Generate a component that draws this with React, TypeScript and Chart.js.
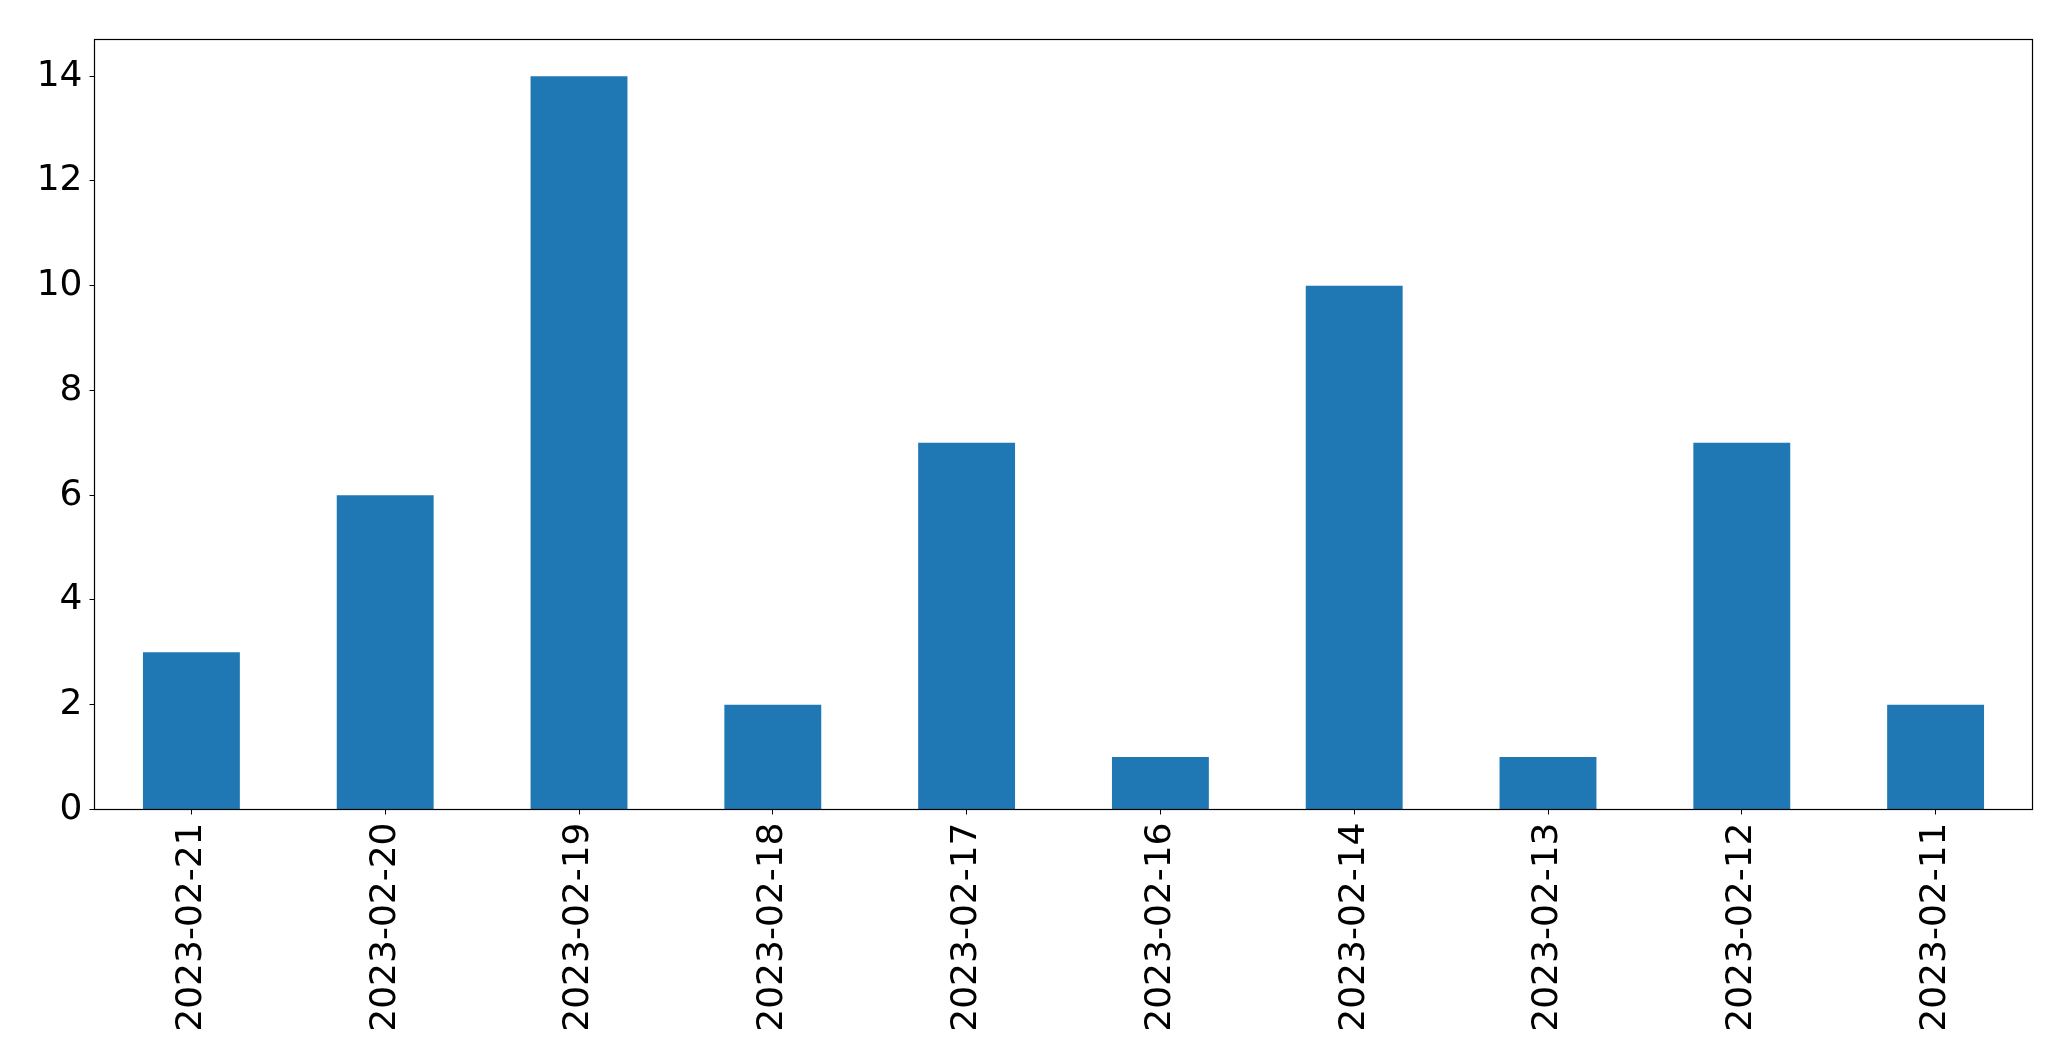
import React, { useEffect, useRef } from "react";
import { Chart, registerables } from "chart.js";

Chart.register(...registerables);

const categories = [
  "2023-02-21", "2023-02-20", "2023-02-19", "2023-02-18", "2023-02-17",
  "2023-02-16", "2023-02-14", "2023-02-13", "2023-02-12", "2023-02-11",
];
const counts = [3, 6, 14, 2, 7, 1, 10, 1, 7, 2];
const yTicks = [0, 2, 4, 6, 8, 10, 12, 14];
const yMax = 14.7;

const W = 2071;
const H = 1061;
const LEFT = 94.5;
const RIGHT = 2032.5;
const TOP = 39.5;
const BOTTOM = 809.5;

const boxPlugin = {
  id: "boxPlugin",
  afterDraw(chart: any) {
    const { ctx, chartArea } = chart;
    ctx.save();
    ctx.strokeStyle = "#000";
    ctx.lineWidth = 1.2;
    ctx.strokeRect(chartArea.left, chartArea.top, chartArea.right - chartArea.left, chartArea.bottom - chartArea.top);
    ctx.restore();
  },
};

export default function App() {
  const ref = useRef<HTMLCanvasElement>(null);
  useEffect(() => {
    document.body.style.margin = "0";
    const font = { family: "'DejaVu Sans'", size: 36 };
    const chart = new Chart(ref.current!, {
      type: "bar",
      data: {
        labels: categories,
        datasets: [
          {
            data: counts,
            backgroundColor: "#1f77b4",
            barPercentage: 0.5,
            categoryPercentage: 1,
          },
        ],
      },
      options: {
        animation: false,
        responsive: false,
        devicePixelRatio: 1,
        layout: { padding: { top: TOP, right: W - RIGHT, left: 0, bottom: 0 } },
        plugins: { legend: { display: false }, tooltip: { enabled: false } },
        scales: {
          x: {
            offset: true,
            grid: { display: true, drawOnChartArea: false, drawTicks: true, tickLength: 5, color: "#000", offset: false },
            border: { display: false },
            ticks: { color: "#000", font, minRotation: 90, maxRotation: 90, padding: 8, autoSkip: false },
            afterFit(scale: any) {
              scale.height = H - BOTTOM;
            },
          },
          y: {
            min: 0,
            max: yMax,
            grid: { display: true, drawOnChartArea: false, drawTicks: true, tickLength: 5, color: "#000" },
            border: { display: false },
            ticks: { color: "#000", font, padding: 7 },
            afterBuildTicks(scale: any) {
              scale.ticks = yTicks.map((v) => ({ value: v }));
            },
            afterFit(scale: any) {
              scale.width = LEFT;
            },
          },
        },
      },
      plugins: [boxPlugin],
    });
    return () => chart.destroy();
  }, []);
  return <canvas ref={ref} width={W} height={H} style={{ display: "block" }} />;
}
